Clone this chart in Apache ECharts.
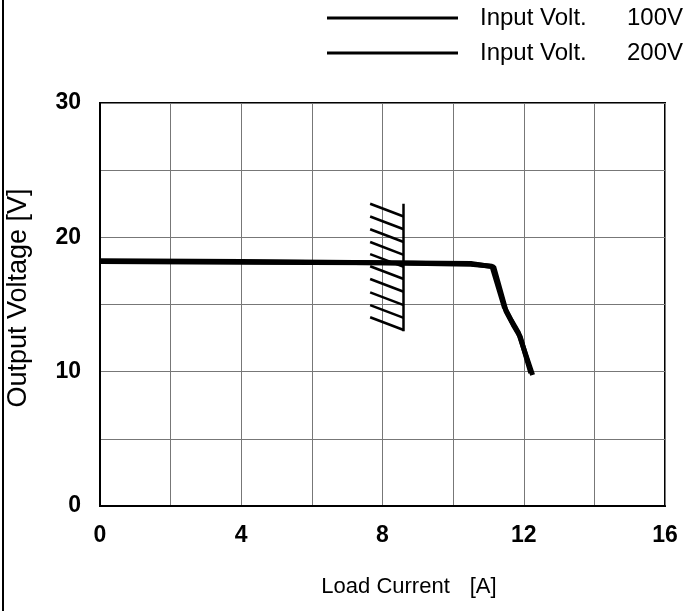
<!DOCTYPE html>
<html>
<head>
<meta charset="utf-8">
<script src="https://cdn.jsdelivr.net/npm/echarts@6/dist/echarts.min.js"></script>
<style>
  html, body { margin: 0; padding: 0; background: #fff; }
  #chart { width: 688px; height: 611px; }
</style>
</head>
<body>
<div id="chart"></div>
<script>
// curve points [load current A, output voltage V]
const volt100 = [[0, 18.2], [4, 18.15], [8, 18.1], [10.5, 18.0], [11.1, 17.85], [11.45, 14.8], [11.65, 13.8], [11.85, 12.9], [12.25, 9.75]]
const volt200 = [[0, 18.25], [4, 18.2], [8, 18.1], [10.5, 18.05], [11.15, 17.8], [11.5, 14.5], [11.7, 13.5], [11.9, 12.6], [12.2, 9.9]]
const seriesNames = ['Input Volt.  100V', 'Input Volt.  200V']
const xTicks = [0, 4, 8, 12, 16]
const yTicks = [0, 10, 20, 30]

// hatched limit mark
const hatchX = [7.65, 8.6]
const hatchBar = [13.0, 22.5]
const hatchLeftY = [22.5, 21.55, 20.6, 19.65, 18.75, 17.85, 16.9, 15.9, 14.95, 14.05]
const hatchDrop = 0.95

const font = 'Liberation Sans, Arial, sans-serif'

const hatchSegs = [{ coords: [[hatchX[1], hatchBar[0]], [hatchX[1], hatchBar[1]]] }]
hatchLeftY.forEach(y => {
  hatchSegs.push({ coords: [[hatchX[0], y], [hatchX[1], y - hatchDrop]] })
})

const option = {
  animation: false,
  backgroundColor: '#fff',
  grid: {
    left: 100,
    right: 23,
    top: 103,
    bottom: 105,
    containLabel: false,
    outerBoundsMode: 'none',
    show: true,
    borderColor: '#000',
    borderWidth: 2
  },
  legend: {
    data: [
      { name: seriesNames[0], itemStyle: { color: '#000' } },
      { name: seriesNames[1], itemStyle: { color: '#000' } }
    ],
    orient: 'vertical',
    left: 322,
    top: 1,
    itemGap: 11,
    itemWidth: 131,
    itemHeight: 3,
    icon: 'rect',
    formatter: name => {
      const parts = name.split('  ')
      return '{a|' + parts[0] + '}{b|' + parts[1] + '}'
    },
    textStyle: {
      fontFamily: font,
      fontSize: 24,
      color: '#000',
      rich: {
        a: { fontFamily: font, fontSize: 24, color: '#000', width: 147, padding: [0, 0, 0, 17] },
        b: { fontFamily: font, fontSize: 24, color: '#000' }
      }
    }
  },
  xAxis: {
    type: 'value',
    min: 0,
    max: 16,
    interval: 2,
    name: '{a|Load Current}{b|[A]}',
    nameLocation: 'middle',
    nameGap: 70,
    nameTextStyle: {
      fontFamily: font,
      fontSize: 22,
      color: '#000',
      padding: [0, 0, 0, 53],
      rich: {
        a: { fontFamily: font, fontSize: 22, color: '#000' },
        b: { fontFamily: font, fontSize: 22, color: '#000', padding: [0, 0, 0, 20] }
      }
    },
    axisLine: { lineStyle: { color: '#000', width: 2 } },
    axisTick: { show: false },
    axisLabel: {
      margin: 18,
      fontFamily: font,
      fontSize: 23,
      fontWeight: 'bold',
      color: '#000',
      formatter: v => (xTicks.indexOf(v) >= 0 ? String(v) : '')
    },
    splitLine: { show: true, lineStyle: { color: '#777', width: 1 } }
  },
  yAxis: {
    type: 'value',
    min: 0,
    max: 30,
    interval: 5,
    name: 'Output Voltage [V]',
    nameLocation: 'middle',
    nameGap: 68,
    nameTextStyle: { fontFamily: font, fontSize: 27, color: '#000', padding: [0, 0, 0, 13] },
    axisLine: { show: true, lineStyle: { color: '#000', width: 2 } },
    axisTick: { show: false },
    axisLabel: {
      margin: 19,
      fontFamily: font,
      fontSize: 23,
      fontWeight: 'bold',
      color: '#000',
      formatter: v => (yTicks.indexOf(v) >= 0 ? String(v) : '')
    },
    splitLine: { show: true, lineStyle: { color: '#777', width: 1 } }
  },
  graphic: [
    {
      type: 'line',
      shape: { x1: 3, y1: 0, x2: 3, y2: 611 },
      style: { stroke: '#000', lineWidth: 2 }
    }
  ],
  series: [
    {
      name: seriesNames[0],
      type: 'line',
      data: volt100,
      symbol: 'none',
      lineStyle: { color: '#000', width: 5 },
      itemStyle: { color: '#000' }
    },
    {
      name: seriesNames[1],
      type: 'line',
      data: volt200,
      symbol: 'none',
      lineStyle: { color: '#000', width: 5 },
      itemStyle: { color: '#000' }
    },
    {
      type: 'lines',
      coordinateSystem: 'cartesian2d',
      data: hatchSegs,
      lineStyle: { color: '#000', width: 2.5, opacity: 1 },
      silent: true
    }
  ]
}

const myChart = echarts.init(document.getElementById('chart'))
myChart.setOption(option)
</script>
</body>
</html>
